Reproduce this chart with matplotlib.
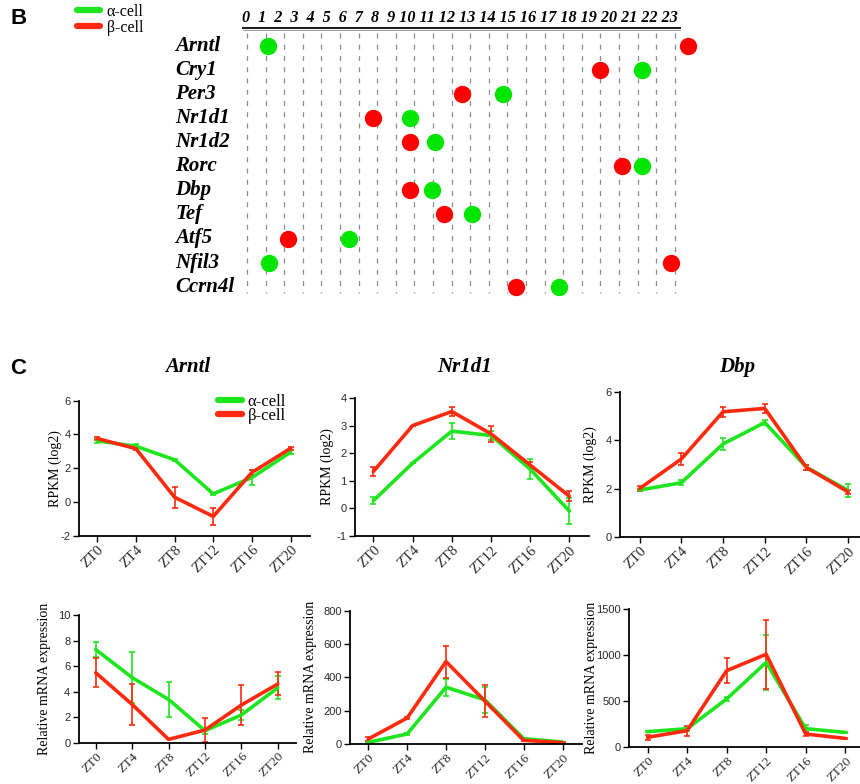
import numpy as np
import matplotlib
matplotlib.use("Agg")
import matplotlib.pyplot as plt
from matplotlib.lines import Line2D
from matplotlib.transforms import blended_transform_factory

plt.rcParams["font.family"] = "Liberation Serif"
plt.rcParams["axes.unicode_minus"] = False

# --------------------------------------------------------------------------- #
# Data
# --------------------------------------------------------------------------- #
genes = ["Arntl", "Cry1", "Per3", "Nr1d1", "Nr1d2", "Rorc", "Dbp", "Tef",
         "Atf5", "Nfil3", "Ccrn4l"]
# peak phase (in units of the dashed-hour grid)
phase_alpha = [1.11, 21.25, 13.75, 8.76, 10.1, 21.24, 9.96, 12.11, 5.51, 1.17, 16.77]
phase_beta = [23.73, 18.98, 11.54, 6.76, 8.76, 20.17, 8.74, 10.6, 2.21, 22.81, 14.47]
hours = list(range(24))

zt_labels = ["ZT0", "ZT4", "ZT8", "ZT12", "ZT16", "ZT20"]

# RNA-seq RPKM (log2)
arntl_rpkm_a = [3.62, 3.30, 2.50, 0.48, 1.45, 2.95]
arntl_rpkm_a_err = [0.10, 0.15, 0.05, 0.05, 0.45, 0.10]
arntl_rpkm_b = [3.76, 3.16, 0.28, -0.86, 1.75, 3.18]
arntl_rpkm_b_err = [0.10, 0.10, 0.62, 0.50, 0.15, 0.10]

nr1d1_rpkm_a = [0.28, 1.64, 2.80, 2.64, 1.42, -0.10]
nr1d1_rpkm_a_err = [0.12, 0.0, 0.29, 0.15, 0.36, 0.48]
nr1d1_rpkm_b = [1.34, 3.00, 3.51, 2.70, 1.57, 0.44]
nr1d1_rpkm_b_err = [0.15, 0.0, 0.15, 0.30, 0.12, 0.18]

dbp_rpkm_a = [1.94, 2.24, 3.84, 4.73, 2.88, 1.92]
dbp_rpkm_a_err = [0.06, 0.10, 0.24, 0.10, 0.10, 0.25]
dbp_rpkm_b = [2.00, 3.22, 5.17, 5.31, 2.87, 1.86]
dbp_rpkm_b_err = [0.10, 0.25, 0.20, 0.17, 0.10, 0.10]

# qPCR relative mRNA expression
arntl_q_a = [7.30, 5.10, 3.39, 0.94, 2.17, 4.30]
arntl_q_a_err = [0.55, 2.00, 1.35, 0.25, 0.40, 0.90]
arntl_q_b = [5.48, 3.00, 0.26, 0.99, 2.95, 4.60]
arntl_q_b_err = [1.13, 1.60, 0.0, 0.97, 1.60, 0.90]

nr1d1_q_a = [10, 60, 341, 265, 32, 12]
nr1d1_q_a_err = [5, 8, 50, 80, 5, 3]
nr1d1_q_b = [30, 156, 495, 258, 22, 8]
nr1d1_q_b_err = [10, 5, 96, 95, 5, 3]

dbp_q_a = [167, 199, 522, 920, 199, 159]
dbp_q_a_err = [5, 20, 25, 300, 40, 5]
dbp_q_b = [105, 178, 830, 1008, 141, 94]
dbp_q_b_err = [25, 55, 135, 376, 20, 5]

GREEN = "#1ee61e"
RED = "#ff2a0e"
DOT_GREEN = "#00e600"
DOT_RED = "#ff0000"

W, H = 860, 784
fig = plt.figure(figsize=(W / 100, H / 100), dpi=100)


def px_axes(l, r, t, b):
    return fig.add_axes([l / W, 1 - b / H, (r - l) / W, (b - t) / H])


# --------------------------------------------------------------------------- #
# Panel B: phase map
# --------------------------------------------------------------------------- #
x0, dx = 247.0, 18.6      # px of hour 0, px per hour
y0, dy = 45.7, 24.1       # px of first gene row, px per row
axB = px_axes(0, W, 0, 310)
axB.set_xlim((0 - x0) / dx, (W - x0) / dx)
axB.set_ylim((310 - y0) / dy, (0 - y0) / dy)
axB.axis("off")

for h in hours:
    axB.plot([h, h], [-0.53, 10.25], color="0.55", lw=0.9,
             ls=(0, (4, 5)), zorder=1)
axB.plot([-0.22, 23.28], [-0.72, -0.72], color="#222222", lw=1.5)
axB.plot([-0.22, 23.28], [-0.65, -0.65], color="0.6", lw=0.7)
header = "  ".join(str(h) for h in hours[:10]) + " " + \
    " ".join(str(h) for h in hours[10:])
axB.text(-0.25, -1.15, header, ha="left", va="center", fontsize=11.6,
         fontweight="bold", fontstyle="italic")

rows = np.arange(len(genes))
for i, g in enumerate(genes):
    axB.text(-3.87, i, g, ha="left", va="center", fontsize=15,
             fontweight="bold", fontstyle="italic")
axB.plot(phase_beta, rows, "o", color=DOT_RED, ms=12.5, mew=0, zorder=3)
axB.plot(phase_alpha, rows, "o", color=DOT_GREEN, ms=12.5, mew=0, zorder=3)

fig.text(10 / W, 1 - 19 / H, "B", fontsize=16, fontweight="bold",
         family="Liberation Sans", va="center", ha="left")
fig.text(10 / W, 1 - 369 / H, "C", fontsize=16, fontweight="bold",
         family="Liberation Sans", va="center", ha="left")

leg_handles = [Line2D([], [], color=GREEN, lw=4.5, solid_capstyle="round"),
               Line2D([], [], color=RED, lw=4.5, solid_capstyle="round")]
fig.legend(leg_handles, ["\u03b1-cell", "\u03b2-cell"], loc="upper left",
           bbox_to_anchor=(77 / W, 1 - 4 / H), frameon=False, fontsize=11.5,
           handlelength=1.45, handletextpad=0.4, labelspacing=0.0,
           borderpad=0, borderaxespad=0)

# --------------------------------------------------------------------------- #
# Panel C: time courses
# --------------------------------------------------------------------------- #
x = np.arange(len(zt_labels))


def draw(ax, a, a_err, b, b_err, ylim, yticks, ylabel, lab_dx, xfs=10.5):
    for vals, err, c in ((a, a_err, GREEN), (b, b_err, RED)):
        ax.errorbar(x, vals, yerr=err, color=c, lw=2.6, elinewidth=1.2,
                    capsize=2.5, capthick=1.2, solid_capstyle="round")
    ax.set_xlim(-0.47, 5.5)
    ax.set_ylim(*ylim)
    ax.set_yticks(yticks)
    ax.set_xticks(x)
    ax.set_xticklabels(zt_labels, rotation=45, ha="right",
                       rotation_mode="anchor", fontsize=xfs, color="#2a2a2a")
    for t in ax.get_yticklabels():
        t.set_family("Liberation Sans")
        t.set_fontsize(8)
        t.set_color("#2a2a2a")
    ax.tick_params(length=4, width=1.0, pad=2)
    ax.tick_params(axis="x", pad=1.5)
    ax.spines[["top", "right"]].set_visible(False)
    for s in ("left", "bottom"):
        ax.spines[s].set_linewidth(1.3)
    ax.set_ylabel(ylabel, fontsize=10)
    bbox = ax.get_position()
    ax.yaxis.set_label_coords(-lab_dx / (bbox.width * W), 0.5)


def title(ax, s):
    tr = blended_transform_factory(ax.transAxes, fig.transFigure)
    ax.text(0.47, 1 - 367 / H, s, transform=tr, ha="center", va="center",
            fontsize=15, fontweight="bold", fontstyle="italic")


ax1 = px_axes(79, 310, 400.7, 535.7)
draw(ax1, arntl_rpkm_a, arntl_rpkm_a_err, arntl_rpkm_b, arntl_rpkm_b_err,
     (-2, 6), [-2, 0, 2, 4, 6], "RPKM (log2)", 17)
title(ax1, "Arntl")
ax1.legend(leg_handles, ["\u03b1-cell", "\u03b2-cell"], loc="upper left",
           bbox_to_anchor=(0.6, 1.05), frameon=False, fontsize=12,
           handlelength=1.45, handletextpad=0.35, labelspacing=-0.1,
           borderpad=0, borderaxespad=0)

ax2 = px_axes(355, 589, 398, 536)
draw(ax2, nr1d1_rpkm_a, nr1d1_rpkm_a_err, nr1d1_rpkm_b, nr1d1_rpkm_b_err,
     (-1, 4), [-1, 0, 1, 2, 3, 4], "RPKM (log2)", 21)
title(ax2, "Nr1d1")

ax3 = px_axes(620, 869, 391.7, 537)
draw(ax3, dbp_rpkm_a, dbp_rpkm_a_err, dbp_rpkm_b, dbp_rpkm_b_err,
     (0, 6), [0, 2, 4, 6], "RPKM (log2)", 23)
title(ax3, "Dbp")

ax4 = px_axes(78.6, 296, 615, 742.7)
draw(ax4, arntl_q_a, arntl_q_a_err, arntl_q_b, arntl_q_b_err,
     (0, 10), [0, 2, 4, 6, 8, 10], "Relative mRNA expression", 28, xfs=9.5)

ax5 = px_axes(350, 582, 610.7, 744)
draw(ax5, nr1d1_q_a, nr1d1_q_a_err, nr1d1_q_b, nr1d1_q_b_err,
     (0, 800), [0, 200, 400, 600, 800], "Relative mRNA expression", 33, xfs=9.5)

ax6 = px_axes(629, 865, 609, 747)
draw(ax6, dbp_q_a, dbp_q_a_err, dbp_q_b, dbp_q_b_err,
     (0, 1500), [0, 500, 1000, 1500], "Relative mRNA expression", 31, xfs=9.5)

fig.savefig("out.png", dpi=100)
